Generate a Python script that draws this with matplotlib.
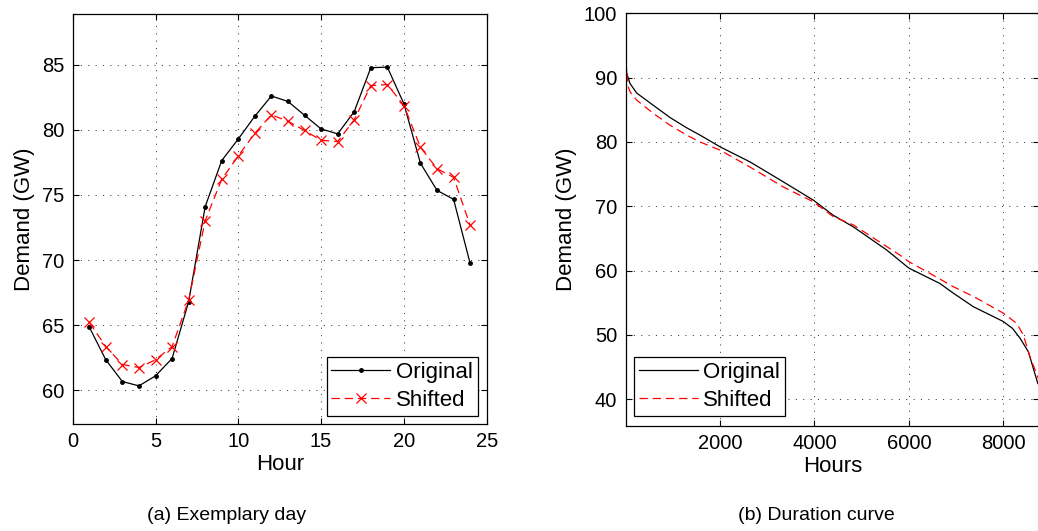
import matplotlib
matplotlib.use("Agg")
import matplotlib.pyplot as plt

plt.rcParams['font.family'] = ['Liberation Sans', 'DejaVu Sans']
plt.rcParams['font.size'] = 16
plt.rcParams['lines.scale_dashes'] = False

# Exemplary day: hourly demand (GW)
hours = list(range(1, 25))
day_original = [64.85, 62.33, 60.66, 60.33, 61.10, 62.43, 66.79, 74.10,
                77.64, 79.30, 81.05, 82.60, 82.18, 81.12, 80.07, 79.69,
                81.40, 84.77, 84.82, 82.00, 77.43, 75.35, 74.66, 69.74]
day_shifted = [65.20, 63.35, 61.97, 61.74, 62.33, 63.35, 66.90, 73.02,
               76.20, 78.00, 79.74, 81.15, 80.66, 79.95, 79.20, 79.10,
               80.77, 83.40, 83.48, 81.87, 78.66, 77.02, 76.35, 72.66]

# Duration curves: sorted demand (GW) against hours of the year
dur_hours_orig = [1, 23, 93, 235, 587, 941, 1294, 1576, 2000, 2636, 3341,
                  3977, 4400, 4826, 5532, 6000, 6659, 6943, 7366, 8000,
                  8200, 8356, 8532, 8731, 8760]
dur_orig = [93.5, 90.7, 89.1, 87.6, 85.7, 83.8, 82.2, 81.07, 79.25, 76.9,
            73.8, 70.96, 68.6, 66.8, 63.2, 60.4, 58.0, 56.5, 54.4, 52.1,
            51.0, 49.5, 47.4, 42.5, 42.2]
dur_hours_shift = [1, 20, 57, 93, 235, 587, 941, 1294, 1576, 2000, 2636,
                   3341, 3977, 4400, 4826, 5815, 6000, 6659, 6943, 7366,
                   8000, 8286, 8426, 8568, 8731, 8760]
dur_shift = [92.7, 91.4, 88.6, 87.8, 86.5, 84.45, 82.6, 81.07, 80.0, 78.74,
             76.1, 73.0, 70.7, 68.4, 67.1, 62.4, 61.4, 58.7, 57.5, 56.0,
             53.4, 51.8, 50.0, 46.6, 43.5, 42.9]

day_xticks = [0, 5, 10, 15, 20, 25]
day_yticks = [60, 65, 70, 75, 80, 85]
dur_xticks = [2000, 4000, 6000, 8000]
dur_yticks = [40, 50, 60, 70, 80, 90, 100]

W, H = 1038, 531
fig = plt.figure(figsize=(W / 100, H / 100), dpi=100)


def px_axes(x0, y0, x1, y1):
    return fig.add_axes([x0 / W, 1 - y1 / H, (x1 - x0) / W, (y1 - y0) / H])


def style(ax):
    for s in ax.spines.values():
        s.set_linewidth(0.9)
        s.set_color('black')
    ax.tick_params(direction='in', length=4, width=0.8, top=True, right=True,
                   labelsize=14.5, pad=6, colors='black')
    ax.grid(True, color='0.25', linestyle=(0, (0.8, 4.5)), linewidth=0.7)
    ax.set_axisbelow(True)


def add_legend(ax, loc, anchor):
    leg = ax.legend(loc=loc, bbox_to_anchor=anchor, fontsize=16,
                    fancybox=False, edgecolor='black', framealpha=1,
                    handlelength=2.65, handletextpad=0.25, borderpad=0.22,
                    labelspacing=0.32, borderaxespad=0)
    leg.get_frame().set_linewidth(0.9)
    return leg


dash = (0, (6, 3.5))

# (a) exemplary day
ax1 = px_axes(72.7, 14, 486.7, 424)
ax1.plot(hours, day_original, color='black', lw=0.9, marker='.', ms=5,
         label='Original')
ax1.plot(hours, day_shifted, color='red', lw=0.9, linestyle=dash, marker='x',
         ms=7, mew=0.9, label='Shifted')
ax1.set_xlim(0, 25)
ax1.set_ylim(57.4, 88.9)
ax1.set_xticks(day_xticks)
ax1.set_yticks(day_yticks)
ax1.set_xlabel('Hour', labelpad=2)
ax1.set_ylabel('Demand (GW)', labelpad=5)
style(ax1)
add_legend(ax1, 'lower right', ((477.7 - 72.7) / 414, (424 - 415.7) / 410))

# (b) duration curve
ax2 = px_axes(625.6, 13.3, 1039.1, 425.7)
ax2.plot(dur_hours_orig, dur_orig, color='black', lw=0.9, label='Original')
ax2.plot(dur_hours_shift, dur_shift, color='red', lw=0.9, linestyle=dash,
         label='Shifted')
ax2.set_xlim(0, 8760)
ax2.set_ylim(35.9, 100)
ax2.set_xticks(dur_xticks)
ax2.set_yticks(dur_yticks)
ax2.set_xlabel('Hours', labelpad=2)
ax2.set_ylabel('Demand (GW)', labelpad=5)
style(ax2)
add_legend(ax2, 'lower left', ((634 - 625.6) / 413.5, (425.7 - 415.7) / 412.4))

fig.text(227 / W, 1 - 516 / H, '(a) Exemplary day', ha='center', va='center',
         fontsize=14)
fig.text(816 / W, 1 - 516 / H, '(b) Duration curve', ha='center', va='center',
         fontsize=14)

fig.savefig('out.png', dpi=100)
